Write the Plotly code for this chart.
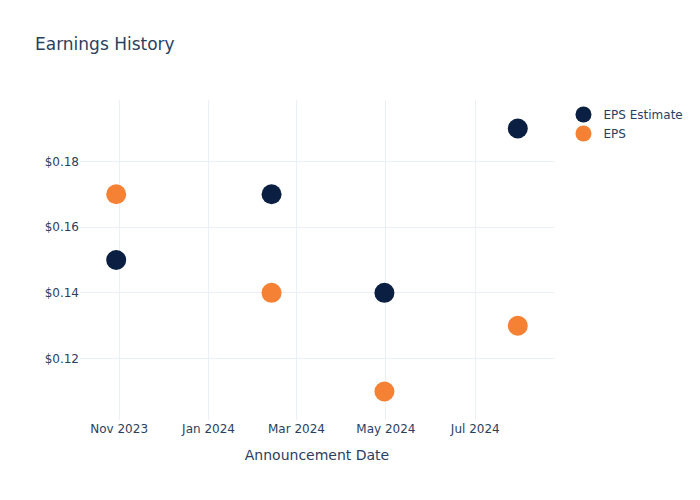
import plotly.graph_objects as go

dates = ["2023-10-30", "2024-02-13", "2024-04-30", "2024-07-30"]
eps_estimate = [0.15, 0.17, 0.14, 0.19]
eps_actual = [0.17, 0.14, 0.11, 0.13]

fig = go.Figure()
fig.add_trace(go.Scatter(x=dates, y=eps_estimate, mode="markers", name="EPS Estimate",
                         marker=dict(size=20, color="#0b1f42")))
fig.add_trace(go.Scatter(x=dates, y=eps_actual, mode="markers", name="EPS",
                         marker=dict(size=20, color="#f58234")))
fig.update_layout(
    template="plotly_white",
    width=700, height=500,
    font=dict(family="DejaVu Sans"),
    title=dict(text="Earnings History"),
    xaxis=dict(title="Announcement Date", tickformat="%b %Y", dtick="M2"),
    yaxis=dict(tickprefix="$", tickformat=".2f"),
)
fig.write_html("out.html")
